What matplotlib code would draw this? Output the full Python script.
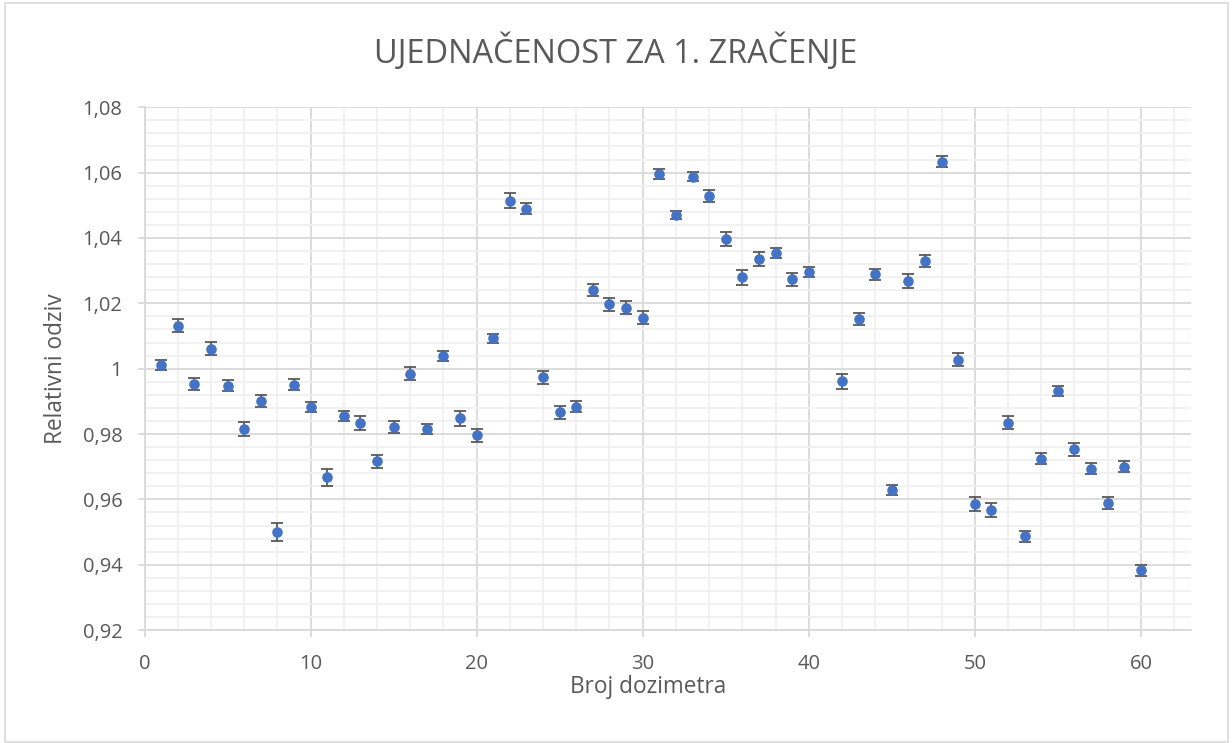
import numpy as np
import matplotlib.pyplot as plt
from matplotlib.ticker import MultipleLocator, FuncFormatter
from matplotlib.patches import Rectangle

plt.rcParams['font.family'] = ['Open Sans', 'DejaVu Sans']

# relativni odziv za svaki dozimetar (dozimetar 41 nema vrijednost)
dozimetar = [1, 2, 3, 4, 5, 6, 7, 8, 9, 10,
             11, 12, 13, 14, 15, 16, 17, 18, 19, 20,
             21, 22, 23, 24, 25, 26, 27, 28, 29, 30,
             31, 32, 33, 34, 35, 36, 37, 38, 39, 40,
             42, 43, 44, 45, 46, 47, 48, 49, 50,
             51, 52, 53, 54, 55, 56, 57, 58, 59, 60]
odziv = [1.0011, 1.0132, 0.9953, 1.0061, 0.9948, 0.9815, 0.9902, 0.9500, 0.9951, 0.9883,
         0.9667, 0.9856, 0.9834, 0.9716, 0.9821, 0.9985, 0.9815, 1.0039, 0.9848, 0.9796,
         1.0093, 1.0514, 1.0490, 0.9973, 0.9866, 0.9884, 1.0240, 1.0197, 1.0187, 1.0156,
         1.0595, 1.0470, 1.0588, 1.0529, 1.0397, 1.0280, 1.0335, 1.0353, 1.0274, 1.0296,
         0.9962, 1.0151, 1.0289, 0.9629, 1.0269, 1.0329, 1.0634, 1.0028, 0.9586,
         0.9568, 0.9834, 0.9487, 0.9725, 0.9931, 0.9754, 0.9694, 0.9589, 0.9700, 0.9383]
greska = [0.0015, 0.0020, 0.0019, 0.0020, 0.0017, 0.0022, 0.0018, 0.0028, 0.0017, 0.0015,
          0.0025, 0.0015, 0.0022, 0.0021, 0.0018, 0.0020, 0.0016, 0.0015, 0.0023, 0.0019,
          0.0014, 0.0023, 0.0016, 0.0019, 0.0021, 0.0018, 0.0019, 0.0020, 0.0019, 0.0020,
          0.0016, 0.0013, 0.0015, 0.0018, 0.0022, 0.0023, 0.0022, 0.0015, 0.0020, 0.0015,
          0.0023, 0.0018, 0.0017, 0.0016, 0.0022, 0.0018, 0.0017, 0.0019, 0.0021,
          0.0021, 0.0020, 0.0016, 0.0016, 0.0015, 0.0020, 0.0017, 0.0018, 0.0016, 0.0017]

fig = plt.figure(figsize=(12.32, 7.43), dpi=100)
ax = fig.add_axes([0.1173, 0.152, 0.8492, 0.7036])

# okvir grafikona
fig.patches.append(Rectangle((0.004, 0.002), 0.993, 0.994, transform=fig.transFigure,
                             fill=False, edgecolor='#d9d9d9', linewidth=1.2))

ax.errorbar(dozimetar, odziv, yerr=greska, fmt='o', color='#4472C4', markersize=6.6,
            ecolor='#595959', elinewidth=1.3, capsize=4.4, capthick=1.3, zorder=3)

ax.set_xlim(0, 63)
ax.set_ylim(0.92, 1.08)
ax.xaxis.set_major_locator(MultipleLocator(10))
ax.xaxis.set_minor_locator(MultipleLocator(2))
ax.yaxis.set_major_locator(MultipleLocator(0.02))
ax.yaxis.set_minor_locator(MultipleLocator(0.004))

def zarez(v, pos):
    s = '%.2f' % v
    if s == '1.00':
        return '1'
    return s.replace('.', ',')

ax.yaxis.set_major_formatter(FuncFormatter(zarez))

ax.grid(which='major', color='#d9d9d9', linewidth=1.3)
ax.grid(which='minor', color='#f0f0f0', linewidth=1.3)
ax.set_axisbelow(True)

for s in ['top', 'right']:
    ax.spines[s].set_visible(False)
ax.spines['left'].set_color('#d9d9d9')
ax.spines['bottom'].set_color('#d9d9d9')
ax.spines['left'].set_linewidth(1.3)
ax.spines['bottom'].set_linewidth(1.3)

ax.tick_params(which='major', length=5, width=1.3, color='#d9d9d9',
               labelsize=14.5, labelcolor='#595959')
ax.tick_params(axis='y', pad=11)
ax.tick_params(axis='x', pad=12)
ax.tick_params(which='minor', length=0)

ax.set_xlabel('Broj dozimetra', fontsize=16.3, color='#595959')
ax.set_ylabel('Relativni odziv', fontsize=16.3, color='#595959')
ax.xaxis.set_label_coords(0.481, -0.086)
ax.yaxis.set_label_coords(-0.073, 0.5)

fig.text(0.5, 0.93, 'UJEDNAČENOST ZA 1. ZRAČENJE', ha='center', va='center',
         fontsize=23.4, color='#595959')

fig.savefig('out.png', dpi=100)
